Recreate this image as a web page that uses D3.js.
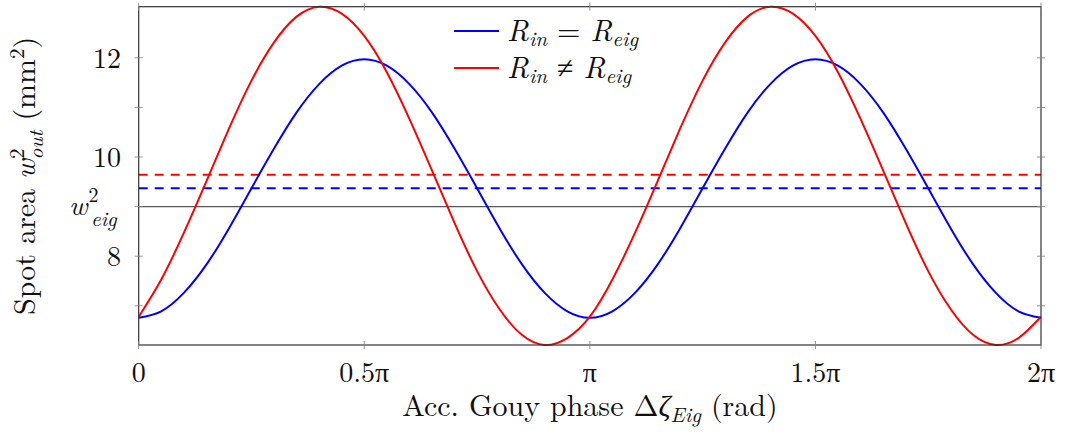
<!DOCTYPE html>
<html lang="en">
<head>
    <meta charset="UTF-8">
    <title>Spot area vs Gouy phase</title>
    <script src="https://cdn.jsdelivr.net/npm/d3@7"></script>
    <style>
        body{
            margin: 0;
            background: white;
        }
        text{
            font-family: "Latin Modern Roman", "CMU Serif", "Liberation Serif", serif;
            fill: #111;
        }
        .tickLabel{
            font-size: 28px;
        }
        .axisTitle{
            font-size: 30px;
        }
        .legendText{
            font-size: 30px;
        }
    </style>
</head>
<body>
<svg id="main" width="1065" height="441"></svg>
<script>
    const width = 1065, height = 441;
    const plot = {left: 138.7, right: 1041, top: 6.7, bottom: 345};

    // phase in units of pi
    const phase = [0, 0.05, 0.1, 0.15, 0.2, 0.25, 0.3, 0.35, 0.4, 0.45,
        0.5, 0.55, 0.6, 0.65, 0.7, 0.75, 0.8, 0.85, 0.9, 0.95,
        1, 1.05, 1.1, 1.15, 1.2, 1.25, 1.3, 1.35, 1.4, 1.45,
        1.5, 1.55, 1.6, 1.65, 1.7, 1.75, 1.8, 1.85, 1.9, 1.95, 2];

    // R_in = R_eig (blue)
    const blueValues = [6.76, 6.89, 7.26, 7.83, 8.56, 9.37, 10.17, 10.90, 11.47, 11.84,
        11.97, 11.84, 11.47, 10.90, 10.17, 9.37, 8.56, 7.83, 7.26, 6.89,
        6.76, 6.89, 7.26, 7.83, 8.56, 9.37, 10.17, 10.90, 11.47, 11.84,
        11.97, 11.84, 11.47, 10.90, 10.17, 9.37, 8.56, 7.83, 7.26, 6.89, 6.76];

    // R_in != R_eig (red)
    const redValues = [6.78, 7.53, 8.47, 9.51, 10.57, 11.54, 12.31, 12.83, 13.03, 12.89,
        12.44, 11.71, 10.77, 9.73, 8.67, 7.70, 6.93, 6.41, 6.21, 6.35,
        6.78, 7.53, 8.47, 9.51, 10.57, 11.54, 12.31, 12.83, 13.03, 12.89,
        12.44, 11.71, 10.77, 9.73, 8.67, 7.70, 6.93, 6.41, 6.21, 6.35, 6.78];

    const blueMean = 9.37;
    const redMean = 9.64;
    const wEig = 9;

    const xTicks = [0, 0.5, 1, 1.5, 2];
    const xTickLabels = ["0", "0.5π", "π", "1.5π", "2π"];
    const yTicks = [7, 8, 9, 10, 11, 12];
    const yLabelTicks = [8, 10, 12];

    const svg = d3.select("svg#main");

    const xScale = d3.scaleLinear().domain([0, 2]).range([plot.left, plot.right]);
    const yScale = d3.scaleLinear().domain([6.21, 13.03]).range([plot.bottom, plot.top]);

    // reference lines
    const refLines = [
        {v: wEig, color: "#555", dash: null, w: 1.4},
        {v: blueMean, color: "blue", dash: "9,7", w: 2},
        {v: redMean, color: "red", dash: "9,7", w: 2}
    ];
    svg.append("g").selectAll("line")
        .data(refLines)
        .join("line")
        .attr("x1", plot.left).attr("x2", plot.right)
        .attr("y1", d => yScale(d.v)).attr("y2", d => yScale(d.v))
        .attr("stroke", d => d.color)
        .attr("stroke-width", d => d.w)
        .attr("stroke-dasharray", d => d.dash);

    // curves
    const line = d3.line()
        .x((d, i) => xScale(phase[i]))
        .y(d => yScale(d))
        .curve(d3.curveNatural);

    const series = [
        {values: blueValues, color: "blue"},
        {values: redValues, color: "red"}
    ];
    svg.append("g").selectAll("path")
        .data(series)
        .join("path")
        .attr("fill", "none")
        .attr("stroke", d => d.color)
        .attr("stroke-width", 2)
        .attr("d", d => line(d.values));

    // frame
    svg.append("rect")
        .attr("x", plot.left).attr("y", plot.top)
        .attr("width", plot.right - plot.left)
        .attr("height", plot.bottom - plot.top)
        .attr("fill", "none")
        .attr("stroke", "#333")
        .attr("stroke-width", 1.2);

    // ticks on all four sides, crossing the frame
    const tickG = svg.append("g").attr("stroke", "#888").attr("stroke-width", 0.9);
    xTicks.forEach(t => {
        [plot.bottom, plot.top].forEach(y0 => {
            tickG.append("line")
                .attr("x1", xScale(t)).attr("x2", xScale(t))
                .attr("y1", y0 - 4).attr("y2", y0 + 4);
        });
    });
    yTicks.forEach(t => {
        [plot.left, plot.right].forEach(x0 => {
            tickG.append("line")
                .attr("x1", x0 - 4).attr("x2", x0 + 4)
                .attr("y1", yScale(t)).attr("y2", yScale(t));
        });
    });

    // x tick labels
    svg.append("g").selectAll("text")
        .data(xTicks)
        .join("text")
        .attr("class", "tickLabel")
        .attr("x", d => xScale(d))
        .attr("y", 382)
        .attr("text-anchor", "middle")
        .text((d, i) => xTickLabels[i]);

    // y tick labels
    svg.append("g").selectAll("text")
        .data(yLabelTicks)
        .join("text")
        .attr("class", "tickLabel")
        .attr("x", 121)
        .attr("y", d => yScale(d) + 10)
        .attr("text-anchor", "end")
        .text(d => d);

    // w_eig^2 label
    const wl = svg.append("text")
        .attr("class", "tickLabel")
        .attr("x", 69)
        .attr("y", yScale(wEig) + 8)
        .attr("font-size", "30px");
    wl.append("tspan").attr("font-style", "italic").text("w");
    wl.append("tspan").attr("font-size", "20px").attr("dy", -13).attr("dx", 1).text("2");
    wl.append("tspan").attr("font-size", "21px").attr("font-style", "italic")
        .attr("x", 91).attr("dy", 24).text("eig");

    // x axis title
    const xt = svg.append("text")
        .attr("class", "axisTitle")
        .attr("x", 590)
        .attr("y", 416)
        .attr("text-anchor", "middle");
    xt.append("tspan").text("Acc. Gouy phase Δ");
    xt.append("tspan").attr("font-style", "italic").text("ζ");
    xt.append("tspan").attr("font-style", "italic").attr("font-size", "21px").attr("dy", 6).text("Eig");
    xt.append("tspan").attr("dy", -6).text(" (rad)");

    // y axis title
    const yt = svg.append("text")
        .attr("class", "axisTitle")
        .attr("transform", `translate(35,${(plot.top + plot.bottom) / 2}) rotate(-90)`)
        .attr("text-anchor", "middle");
    yt.append("tspan").text("Spot area ");
    yt.append("tspan").attr("font-style", "italic").text("w");
    yt.append("tspan").attr("font-size", "21px").attr("dy", -11).text("2");
    yt.append("tspan").attr("font-size", "21px").attr("font-style", "italic").attr("dx", -11).attr("dy", 19).text("out");
    yt.append("tspan").attr("dy", -8).text("  (mm");
    yt.append("tspan").attr("font-size", "21px").attr("dy", -11).text("2");
    yt.append("tspan").attr("dy", 11).text(")");

    // legend
    const legendItems = [
        {color: "blue", rel: "="},
        {color: "red", rel: "≠"}
    ];
    const legend = svg.append("g").selectAll("g")
        .data(legendItems)
        .join("g")
        .attr("transform", (d, i) => `translate(454,${31 + i * 37})`);
    legend.append("line")
        .attr("x1", 0).attr("x2", 45)
        .attr("stroke", d => d.color)
        .attr("stroke-width", 2);
    const lt = legend.append("text")
        .attr("class", "legendText")
        .attr("x", 53)
        .attr("y", 10);
    lt.append("tspan").attr("font-style", "italic").text("R");
    lt.append("tspan").attr("font-style", "italic").attr("font-size", "21px").attr("dy", 5).text("in");
    lt.append("tspan").attr("dy", -5).text(d => " " + d.rel + " ");
    lt.append("tspan").attr("font-style", "italic").text("R");
    lt.append("tspan").attr("font-style", "italic").attr("font-size", "21px").attr("dy", 5).text("eig");
</script>
</body>
</html>
